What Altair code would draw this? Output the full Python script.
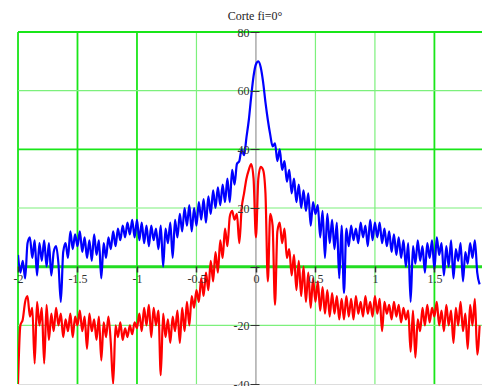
import altair as alt
import pandas as pd

# ---- data ----
x_start = -2.0
x_step = 0.02

blue = [4, -2, 2, -4, 8, 10, 3, 9, -3, 8, 2, 9, 0, 8, -3, 5, 7, 1, -12, 5,
        8, 3, 12, 6, 11, 7, 12, 5, 10, 3, 9, 2, 11, 4, 9, -4, 8, 3, 10, 6,
        12, 7, 13, 9, 14, 10, 15, 11, 16, 10, 16, 9, 15, 8, 14, 7, 14, 9, 13, 6,
        14, 0, 13, 8, 15, 3, 16, 10, 18, 12, 20, 14, 21, 12, 20, 14, 22, 16, 23, 15,
        24, 18, 26, 20, 27, 21, 28, 22, 30, 22, 33, 28, 35, 36, 40, 38, 44, 50, 58, 65,
        69, 70, 68, 63, 56, 50, 45, 41, 42, 36, 40, 33, 36, 29, 33, 25, 30, 22, 28, 20,
        26, 19, 25, 14, 22, 18, 21, 10, 19, 3, 18, 8, 16, 6, 15, -4, 14, -9, 13, 7,
        14, 9, 13, 8, 15, 10, 14, 7, 16, 9, 15, 10, 15, 8, 13, 7, 12, 5, 11, 4,
        10, 3, 9, 0, 8, -12, 7, 1, 9, 2, 7, -2, 8, 3, 9, -1, 10, 4, 8, -3,
        7, 0, 9, -4, 6, 2, 8, -5, 5, 1, 8, 3, 9, -2, -6]

red = [-40, -20, -18, -12, -10, -17, -14, -33, -12, -20, -14, -33, -13, -25, -16, -22, -14, -20, -16, -24,
       -18, -22, -16, -24, -17, -20, -15, -22, -17, -28, -16, -22, -18, -25, -17, -32, -19, -24, -17, -26,
       -40, -20, -24, -19, -25, -21, -24, -20, -23, -19, -21, -16, -22, -14, -20, -13, -24, -14, -20, -15,
       -37, -16, -24, -18, -26, -17, -22, -15, -26, -14, -22, -12, -20, -10, -14, -8, -12, -4, -10, -2,
       -8, 2, -5, 5, -2, 9, 3, 13, 7, 17, 19, 16, 18, 8, 20, 25, 30, 33, 35, 30,
       10, 30, 34, 33, 25, -5, 18, 14, -13, 12, 15, 8, 13, 3, 6, -3, 4, -8, 2, -10,
       0, -12, -2, -14, -4, -12, -5, -15, -7, -16, -8, -17, -9, -16, -10, -18, -11, -18, -10, -17,
       -11, -18, -10, -16, -12, -17, -10, -16, -12, -17, -10, -16, -11, -22, -12, -16, -13, -18, -12, -17,
       -13, -19, -14, -18, -15, -29, -15, -31, -18, -22, -14, -20, -13, -19, -14, -17, -12, -20, -15, -22,
       -13, -20, -15, -26, -14, -20, -12, -22, -16, -28, -13, -20, -11, -30, -20]

x_ticks = [-2, -1.5, -1, -0.5, 0, 0.5, 1, 1.5]
y_ticks = [-40, -20, 0, 20, 40, 60, 80]
grid_x_strong = [-2, -1.5, -1, 1.5]
grid_x_light = [-0.5, 0.5, 1]
grid_y_strong = [80, 40]
grid_y_light = [60, 20, -20]

title_text = "Corte fi=0°"

# ---- tables ----
blue_df = pd.DataFrame({"x": [round(x_start + x_step * i, 4) for i in range(len(blue))], "y": blue})
red_df = pd.DataFrame({"x": [round(x_start + x_step * i, 4) for i in range(len(red))], "y": red})

x_scale = alt.Scale(domain=[-2, 1.9], nice=False, zero=False)
y_scale = alt.Scale(domain=[-40, 80], nice=False, zero=False)

FONT = "Liberation Serif"

x_axis = alt.Axis(values=x_ticks, labelExpr="'' + datum.value", offset=-118, domain=False,
                  grid=False, ticks=True, tickColor="#333333", tickSize=6, tickWidth=1.5,
                  labelFont=FONT, labelFontSize=12, labelColor="#333333", labelPadding=1,
                  labelFlush=False, labelOverlap=False, labelBound=False, title=None, zindex=2)
y_axis = alt.Axis(values=y_ticks, labelExpr="datum.value == 0 ? '' : '' + datum.value",
                  offset=-241, domain=False, grid=False, tickColor="#333333", tickSize=9,
                  labelFont=FONT, labelFontSize=12, labelColor="#333333", labelPadding=1,
                  labelOverlap=False, labelBound=False, title=None, zindex=2)

X = alt.X("x:Q", scale=x_scale, axis=x_axis)
Y = alt.Y("y:Q", scale=y_scale, axis=y_axis)

def vrules(vals, color, width):
    return alt.Chart(pd.DataFrame({"x": vals})).mark_rule(color=color, strokeWidth=width).encode(x=X)

def hrules(vals, color, width):
    return alt.Chart(pd.DataFrame({"y": vals})).mark_rule(color=color, strokeWidth=width).encode(y=Y)

grid = (
    vrules(grid_x_light, "#7cf07c", 1.2)
    + vrules(grid_x_strong, "#19e619", 1.8)
    + hrules(grid_y_light, "#7cf07c", 1.2)
    + hrules(grid_y_strong, "#19e619", 1.8)
)

y_axis_line = alt.Chart(pd.DataFrame({"x": [0]})).mark_rule(color="#808080", strokeWidth=1).encode(x=X)
x_axis_line = alt.Chart(pd.DataFrame({"y": [0]})).mark_rule(color="#22dd22", strokeWidth=3).encode(y=Y)

blue_line = alt.Chart(blue_df).mark_line(color="#0000ff", strokeWidth=2.2, clip=True,
                                         interpolate="monotone").encode(x=X, y=Y)
red_line = alt.Chart(red_df).mark_line(color="#ff0000", strokeWidth=2.2, clip=True,
                                       interpolate="monotone").encode(x=X, y=Y)

chart = alt.layer(grid, x_axis_line, y_axis_line, blue_line, red_line).properties(
    width=464,
    height=352,
    title=alt.TitleParams(title_text, font=FONT, fontSize=12, fontWeight="normal", color="#222222",
                          offset=3, dx=5),
    autosize=alt.AutoSizeParams(type="none"),
    padding={"left": 18, "top": 32, "right": 0, "bottom": 2},
).configure_view(stroke=None).configure(background="white")

chart.save("out.html", embed_options={"renderer": "svg", "actions": False})
